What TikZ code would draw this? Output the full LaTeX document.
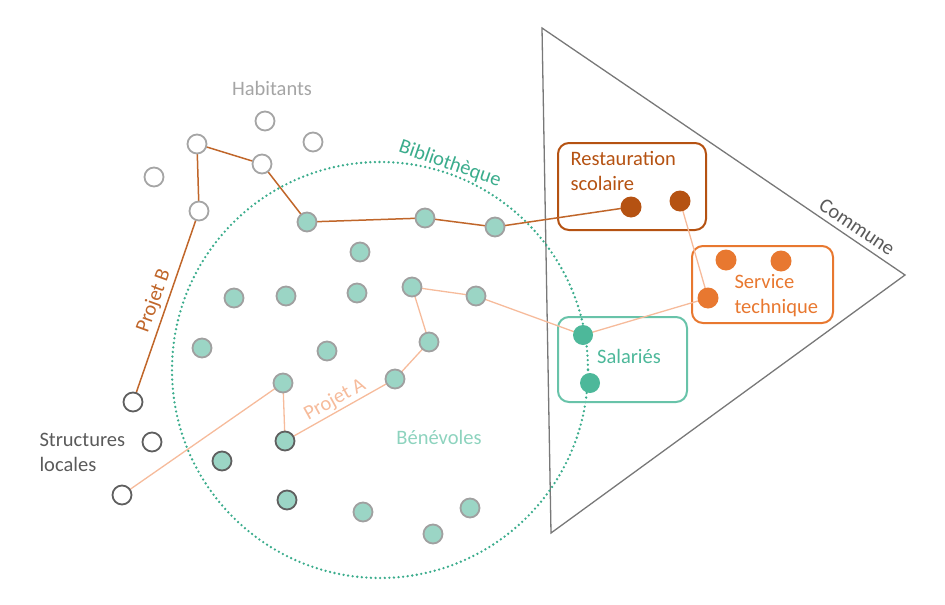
\documentclass[tikz,border=0pt]{standalone}
\usepackage{fontspec}
\setmainfont{Carlito}
\begin{document}
\begin{tikzpicture}[x=1pt,y=-1pt,
  every node/.style={font=\fontsize{20.5}{25}\selectfont},
  dotbase/.style={circle,inner sep=0pt,minimum size=19pt,line width=1.8pt},
  hab/.style={dotbase,draw=habgray,fill=white},
  loc/.style={dotbase,draw=locgray,fill=white},
  ben/.style={dotbase,draw=bengray,fill=benfill},
  bendark/.style={dotbase,draw=locgray,fill=benfill},
  sal/.style={dotbase,minimum size=20pt,fill=salteal},
  res/.style={dotbase,minimum size=21pt,fill=resorange},
  ser/.style={dotbase,minimum size=21pt,fill=serorange},
  projA/.style={draw=projAcol,line width=1.3pt},
  projB/.style={draw=projBcol,line width=1.5pt},
  grpbox/.style={rounded corners=11pt,line width=2pt}
]
\definecolor{habgray}{RGB}{165,165,165}
\definecolor{locgray}{RGB}{95,95,95}
\definecolor{bengray}{RGB}{160,160,160}
\definecolor{benfill}{RGB}{155,213,197}
\definecolor{salteal}{RGB}{77,184,154}
\definecolor{bibteal}{RGB}{58,172,140}
\definecolor{bentext}{RGB}{141,211,190}
\definecolor{resorange}{RGB}{181,82,18}
\definecolor{serorange}{RGB}{232,120,48}
\definecolor{projAcol}{RGB}{246,187,155}
\definecolor{projBcol}{RGB}{192,102,42}
\definecolor{trigray}{RGB}{120,120,120}
\definecolor{textgray}{RGB}{90,90,90}
\useasboundingbox (0,0) rectangle (945,605);

% Commune triangle
\draw[trigray,line width=1.3pt,line join=miter] (542,28) coordinate (t1) -- (905,275) coordinate (t2) -- (551,533) coordinate (t3) -- cycle;
\node[textgray,rotate=-34] (commune) at (857,227) {Commune};

% Bibliotheque circle
\draw[bibteal,line width=2.6pt,line cap=round,dash pattern=on 0pt off 4.6pt] (380,370) circle (208);
\node[bibteal,rotate=-19] (biblio) at (450,164) {Bibliothèque};

% group boxes
\draw[grpbox,draw=resorange] (558,143) rectangle (706,230);
\draw[grpbox,draw=serorange] (692,246) rectangle (833,323);
\draw[grpbox,draw=salteal!85] (558,317) rectangle (687,402);

% coordinates of the nodes
\coordinate (h1) at (265,121);
\coordinate (h2) at (313,142);
\coordinate (h3) at (197,144);
\coordinate (h4) at (154,177);
\coordinate (h5) at (262,164);
\coordinate (h6) at (199,211);
\coordinate (l1) at (133,402);
\coordinate (l2) at (152,442);
\coordinate (l3) at (122,495);
\coordinate (b1) at (307,222);
\coordinate (b2) at (425,218);
\coordinate (b3) at (495,227);
\coordinate (b4) at (360,252);
\coordinate (b5) at (234,298);
\coordinate (b6) at (286,296);
\coordinate (b7) at (357,293);
\coordinate (b8) at (412,287);
\coordinate (b9) at (476,296);
\coordinate (b10) at (202,348);
\coordinate (b11) at (327,351);
\coordinate (b12) at (429,342);
\coordinate (b13) at (283,383);
\coordinate (b14) at (395,379);
\coordinate (b15) at (363,512);
\coordinate (b16) at (470,508);
\coordinate (b17) at (433,534);
\coordinate (d1) at (285,441);
\coordinate (d2) at (222,461);
\coordinate (d3) at (287,500);
\coordinate (s1) at (583,335);
\coordinate (s2) at (590,383);
\coordinate (r1) at (631,207);
\coordinate (r2) at (680,201);
\coordinate (e1) at (726,260);
\coordinate (e2) at (781,261);
\coordinate (e3) at (708,298);

% Projet B
\draw[projB] (l1) -- (h6) -- (h3) -- (h5) -- (b1) -- (b2) -- (b3) -- (r1);
\node[projBcol,rotate=70] (projetB) at (154,301) {Projet B};

% Projet A
\draw[projA] (l3) -- (b13) -- (d1) -- (b14) -- (b12) -- (b8) -- (b9) -- (s1) -- (e3) -- (r2);
\node[projAcol,rotate=29] (projetA) at (335,400) {Projet A};

% dots
\foreach \n in {h1,h2,h3,h4,h5,h6} \node[hab] (n\n) at (\n) {};
\foreach \n in {l1,l2,l3} \node[loc] (n\n) at (\n) {};
\foreach \n in {b1,b2,b3,b4,b5,b6,b7,b8,b9,b10,b11,b12,b13,b14,b15,b16,b17} \node[ben] (n\n) at (\n) {};
\foreach \n in {d1,d2,d3} \node[bendark] (n\n) at (\n) {};
\foreach \n in {s1,s2} \node[sal] (n\n) at (\n) {};
\foreach \n in {r1,r2} \node[res] (n\n) at (\n) {};
\foreach \n in {e1,e2,e3} \node[ser] (n\n) at (\n) {};

% labels
\node[habgray] (habitants) at (272,88) {Habitants};
\node[textgray,anchor=west,align=left] (structures) at (36,452) {Structures\\locales};
\node[resorange,anchor=west,align=left] (restauration) at (567,171) {Restauration\\scolaire};
\node[serorange,anchor=west,align=left] (service) at (731,296) {Service\\technique};
\node[salteal] (salaries) at (629,356) {Salariés};
\node[bentext] (benevoles) at (439,437) {Bénévoles};
\end{tikzpicture}
\end{document}
